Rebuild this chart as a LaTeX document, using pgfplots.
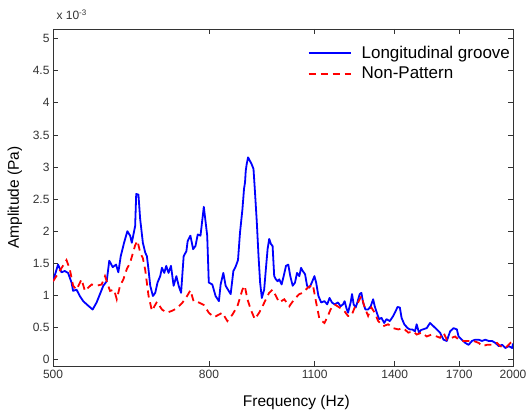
\documentclass[border=0pt]{standalone}
\usepackage{fontspec}
\setmainfont{Liberation Sans}
\usepackage{pgfplots}
\pgfplotsset{compat=1.18}
\begin{document}
\begin{tikzpicture}[x=1pt,y=1pt]
\path[use as bounding box] (0,0) rectangle (531,413);
\begin{axis}[
  at={(53pt,47pt)}, anchor=south west,
  scale only axis, width=460pt, height=337pt,
  xmode=log, xmin=500, xmax=2000,
  log basis x=10,
  xtick={500,800,1100,1400,1700,2000},
  xticklabels={500,800,1100,1400,1700,2000},
  xminorticks=false,
  ymin=-0.1, ymax=5.15,
  ytick={0,0.5,1,1.5,2,2.5,3,3.5,4,4.5,5},
  yticklabels={0,0.5,1,1.5,2,2.5,3,3.5,4,4.5,5},
  tick align=inside,
  major tick length=5pt,
  tick style={black!80, line width=0.7pt},
  axis line style={black!80, line width=0.9pt},
  /pgf/number format/assume math mode=true,
  tick label style={font=\fontsize{12}{14}\selectfont, text=black!80},
  xticklabel style={yshift=-1pt},
  xlabel={Frequency (Hz)},
  ylabel={Amplitude (Pa)},
  label style={font=\fontsize{15.5}{18}\selectfont},
  xlabel style={at={(axis description cs:0.529,0)}, anchor=center, yshift=-36pt},
  ylabel style={at={(axis description cs:-0.083,0.5)}, anchor=center},
  legend style={draw=none, fill=none, at={(axis description cs:0.553,0.955)}, anchor=north west,
    font=\fontsize{17}{20}\selectfont, row sep=3pt, inner sep=0pt},
  legend cell align=left,
  legend image code/.code={\draw[#1, line width=2pt] (0pt,0pt) -- (42pt,0pt);},
  /tikz/every odd column/.append style={column sep=8pt},
]
\addplot[blue, line width=1.8pt, line join=round] coordinates {
(500,1.22)(507.6,1.48)(512.9,1.36)(518.0,1.38)(523.2,1.35)(528.7,1.20)(531.2,1.07)
(536.7,1.09)(542.1,0.99)(547.6,0.91)(555.9,0.84)(563.4,0.78)(570.2,0.89)(576.0,1.02)
(581.8,1.15)(587.8,1.22)(592.4,1.54)(598.6,1.44)(604.6,1.48)(608.8,1.36)(613.2,1.61)
(619.4,1.82)(625.6,2.00)(630.8,1.93)(634.0,1.82)(640.4,2.08)(642.5,2.58)(646.8,2.57)
(650.2,2.19)(655.5,1.82)(660.1,1.67)(663.5,1.61)(666.7,1.41)(670.2,1.15)(675.7,0.99)
(680.4,1.04)(685.1,1.20)(690.7,1.30)(694.3,1.43)(699.2,1.35)(703.4,1.46)(708.3,1.35)
(713.5,1.46)(719.2,1.15)(725.1,1.30)(730.2,1.15)(735.5,1.04)(741.3,1.61)(747.4,1.69)
(750.4,1.85)(756.5,1.93)(762.8,1.72)(768.1,1.77)(773.5,1.95)(779.9,1.93)(787.7,2.38)
(795.8,1.93)(799.7,1.20)(808.0,1.17)(816.1,0.99)(824.3,0.91)(828.6,1.17)(835.3,1.35)
(841.2,1.15)(847.1,1.09)(854.0,1.02)(861.0,1.38)(867.0,1.45)(873.1,1.55)(878.4,1.98)
(884.8,2.34)(889.1,2.66)(891.8,2.76)(893.7,2.94)(896.4,3.05)(900.0,3.15)(904.6,3.10)
(909.3,3.05)(914.8,2.97)(918.4,2.66)(924.0,2.14)(928.8,1.61)(933.3,1.20)(938.1,0.96)
(944.7,1.09)(949.6,1.41)(954.5,1.72)(959.1,1.88)(964.1,1.80)(969.0,1.77)(973.7,1.30)
(978.8,1.25)(983.8,1.22)(988.6,1.25)(995.8,1.17)(1001.9,1.30)(1008.9,1.46)(1015.9,1.48)
(1022.1,1.30)(1029.5,1.15)(1036.7,1.20)(1043.0,1.35)(1050.3,1.30)(1055.8,1.43)(1061.2,1.38)
(1068.6,1.33)(1075.1,1.15)(1082.6,1.12)(1090.6,1.20)(1099.2,1.30)(1104.9,1.20)(1112.6,0.99)
(1121.8,0.89)(1133.0,0.91)(1142.4,0.86)(1150.4,0.96)(1158.7,0.89)(1167.9,0.86)(1180.0,0.89)
(1189.3,0.83)(1198.0,0.86)(1203.8,0.91)(1210.0,0.81)(1216.3,0.73)(1225.9,0.89)(1231.1,1.02)
(1237.1,0.86)(1244.6,0.81)(1251.0,0.89)(1259.8,1.02)(1266.3,1.04)(1272.8,0.89)(1281.7,0.78)
(1292.2,0.78)(1302.4,0.83)(1311.9,0.94)(1318.3,0.83)(1329.1,0.70)(1335.9,0.63)(1345.3,0.65)
(1356.3,0.57)(1365.8,0.63)(1379.5,0.60)(1393.8,0.68)(1403.5,0.75)(1412.1,0.82)(1422.0,0.81)
(1429.3,0.65)(1441.1,0.55)(1455.6,0.49)(1465.7,0.47)(1476.4,0.47)(1488.1,0.44)(1495.8,0.55)
(1506.2,0.42)(1515.4,0.46)(1541.8,0.49)(1557.3,0.57)(1573.4,0.52)(1589.2,0.47)(1605.2,0.42)
(1621.8,0.31)(1638.1,0.29)(1654.5,0.44)(1671.6,0.49)(1688.5,0.47)(1697.2,0.36)(1714.2,0.31)
(1731.5,0.26)(1749.4,0.23)(1767.0,0.29)(1784.7,0.31)(1803.2,0.31)(1821.3,0.29)(1839.6,0.31)
(1858.7,0.29)(1877.3,0.29)(1896.2,0.26)(1915.8,0.21)(1935.1,0.23)(1954.5,0.18)(1974.7,0.21)
(1994.5,0.18)(2000,0.25)
};
\addlegendentry{Longitudinal groove}
\addplot[red, line width=1.8pt, dash pattern=on 7pt off 5pt] coordinates {
(500,1.22)(510.2,1.38)(520.7,1.55)(525.9,1.41)(531.2,1.15)(536.7,1.09)(544.9,1.25)
(550.4,1.07)(555.9,1.12)(561.7,1.17)(570.2,1.15)(578.9,1.17)(584.8,1.30)(593.7,1.07)
(600.9,1.09)(605.9,0.94)(611.9,1.15)(618.1,1.25)(624.5,1.41)(630.8,1.51)(640.4,1.78)
(644.9,1.85)(650.2,1.67)(655.5,1.58)(660.1,1.40)(666.7,1.00)(673.6,0.76)(683.9,0.90)
(694.3,0.78)(704.9,0.73)(715.7,0.76)(726.6,0.80)(737.7,0.88)(749.0,0.99)(756.5,1.08)
(764.2,0.90)(775.8,0.89)(787.7,0.85)(799.7,0.73)(811.9,0.66)(824.3,0.70)(832.8,0.73)
(845.5,0.60)(858.4,0.70)(871.5,0.83)(884.8,1.09)(891.0,1.15)(898.3,0.94)(907.3,0.78)
(918.4,0.63)(930.5,0.73)(940.1,0.83)(949.6,0.94)(959.1,1.04)(969.0,1.09)(978.8,0.99)
(988.6,0.89)(1003.7,0.94)(1019.0,0.83)(1034.5,0.94)(1050.3,1.02)(1061.2,1.04)(1077.4,1.12)
(1093.9,1.17)(1104.9,0.89)(1116.0,0.63)(1133.0,0.57)(1144.8,0.68)(1153.8,0.78)(1167.9,0.86)
(1185.7,0.81)(1203.8,0.75)(1216.3,0.68)(1228.5,0.68)(1240.8,0.81)(1253.7,0.89)(1266.3,0.99)
(1279.0,0.81)(1292.2,0.68)(1305.2,0.81)(1318.3,0.73)(1331.9,0.60)(1352.2,0.52)(1372.8,0.55)
(1393.8,0.49)(1415.1,0.47)(1436.7,0.49)(1458.7,0.42)(1480.9,0.44)(1495.8,0.39)(1518.6,0.42)
(1541.8,0.36)(1565.3,0.39)(1589.2,0.36)(1605.2,0.34)(1621.8,0.42)(1638.1,0.31)(1663.1,0.34)
(1679.8,0.36)(1697.2,0.31)(1723.1,0.29)(1749.4,0.29)(1776.1,0.29)(1803.2,0.26)(1821.3,0.21)
(1849.1,0.23)(1877.3,0.23)(1906.0,0.26)(1925.1,0.21)(1954.5,0.18)(1984.3,0.26)(2000,0.28)
};
\addlegendentry{Non-Pattern}
\end{axis}
\node[anchor=base west, font=\fontsize{12}{14}\selectfont, text=black!80] at (53,393) {x 10\textsuperscript{-3}};
\end{tikzpicture}
\end{document}
